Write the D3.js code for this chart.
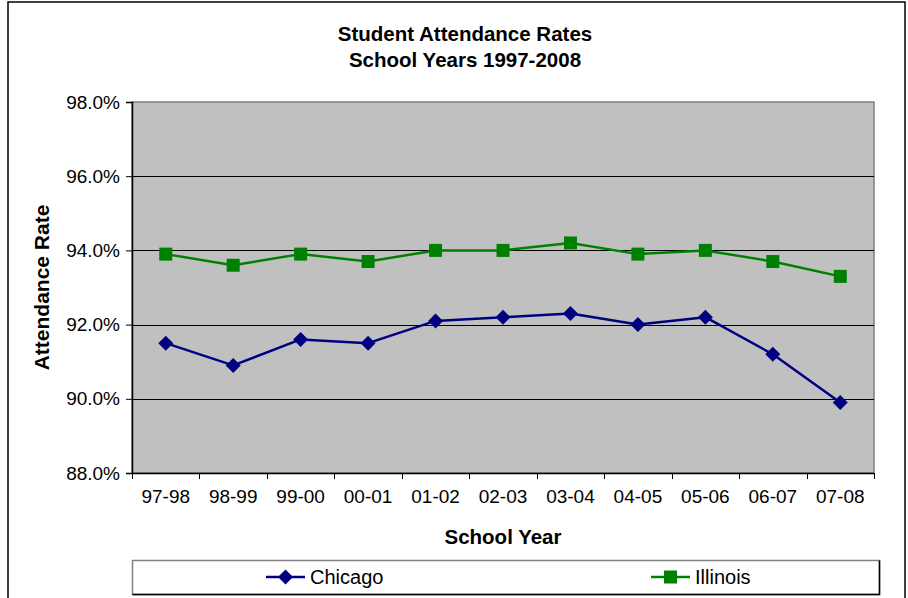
<!DOCTYPE html>
<html>
<head>
<meta charset="utf-8">
<script src="https://cdn.jsdelivr.net/npm/d3@7"></script>
<style>
  html, body { margin: 0; padding: 0; background: #fff; }
  svg { display: block; font-family: "Liberation Sans", Arial, sans-serif; }
</style>
</head>
<body>
<svg id="chart" width="908" height="598"></svg>
<script>
// School years on the category axis
const years = ["97-98", "98-99", "99-00", "00-01", "01-02", "02-03", "03-04", "04-05", "05-06", "06-07", "07-08"];
// Attendance rates (%)
const chicago = [91.5, 90.9, 91.6, 91.5, 92.1, 92.2, 92.3, 92.0, 92.2, 91.2, 89.9];
const illinois = [93.9, 93.6, 93.9, 93.7, 94.0, 94.0, 94.2, 93.9, 94.0, 93.7, 93.3];
// Value axis ticks
const yTicks = [88, 90, 92, 94, 96, 98];

const svg = d3.select("#chart");

// Outer chart frame
svg.append("rect")
  .attr("x", 8).attr("y", 2).attr("width", 897).attr("height", 620)
  .attr("fill", "none").attr("stroke", "#000").attr("stroke-width", 1.5);

const plot = { left: 132, right: 874, top: 102, bottom: 473 };

const x = d3.scaleBand().domain(years).range([plot.left, plot.right]);
const y = d3.scaleLinear().domain([88, 98]).range([plot.bottom, plot.top]);

// Plot background
svg.append("rect")
  .attr("x", plot.left).attr("y", plot.top)
  .attr("width", plot.right - plot.left).attr("height", plot.bottom - plot.top)
  .attr("fill", "#c0c0c0").attr("stroke", "#808080").attr("stroke-width", 1.5);

// Horizontal gridlines
svg.append("g")
  .selectAll("line")
  .data(yTicks.filter(t => t > 88 && t < 98))
  .join("line")
  .attr("x1", plot.left).attr("x2", plot.right)
  .attr("y1", d => Math.round(y(d)) + 0.5).attr("y2", d => Math.round(y(d)) + 0.5)
  .attr("stroke", "#000").attr("stroke-width", 1);

// Y axis
const yAxis = svg.append("g")
  .attr("transform", `translate(${plot.left},0)`)
  .call(d3.axisLeft(y).tickValues(yTicks).tickSize(6).tickPadding(6)
    .tickFormat(d => d3.format(".1f")(d) + "%"));
yAxis.select(".domain").attr("stroke", "#000").attr("stroke-width", 1.5);
yAxis.selectAll(".tick line").attr("stroke", "#000");
yAxis.selectAll(".tick text")
  .attr("font-size", 19).attr("fill", "#000")
  .attr("font-family", "'Liberation Sans', Arial, sans-serif");

// X axis with ticks at category boundaries
const xAxis = svg.append("g")
  .attr("transform", `translate(0,${plot.bottom})`)
  .call(d3.axisBottom(x).tickSize(0).tickPadding(17));
xAxis.select(".domain").attr("stroke", "#000").attr("stroke-width", 1.5);
xAxis.selectAll(".tick text")
  .attr("font-size", 19).attr("fill", "#000")
  .attr("font-family", "'Liberation Sans', Arial, sans-serif");
const bounds = years.map(d => x(d)).concat([x(years[years.length - 1]) + x.bandwidth()]);
xAxis.selectAll("line.boundary")
  .data(bounds)
  .join("line")
  .attr("class", "boundary")
  .attr("x1", d => Math.round(d) + 0.5).attr("x2", d => Math.round(d) + 0.5)
  .attr("y1", 0).attr("y2", 6)
  .attr("stroke", "#000");

const cx = d => x(d) + x.bandwidth() / 2;

const series = [
  { name: "Chicago", values: chicago, color: "#000080", shape: "diamond" },
  { name: "Illinois", values: illinois, color: "#008000", shape: "square" }
];

function drawMarker(g, shape, color) {
  if (shape === "diamond") {
    g.append("path").attr("d", "M0,-7.5L7.5,0L0,7.5L-7.5,0Z").attr("fill", color);
  } else {
    g.append("rect").attr("x", -6.5).attr("y", -6.5).attr("width", 13).attr("height", 13).attr("fill", color);
  }
}

const line = d3.line().x((d, i) => cx(years[i])).y(d => y(d));

series.forEach(s => {
  svg.append("path")
    .datum(s.values)
    .attr("d", line)
    .attr("fill", "none")
    .attr("stroke", s.color)
    .attr("stroke-width", 2.5)
    .attr("stroke-linejoin", "round");
  s.values.forEach((v, i) => {
    const g = svg.append("g").attr("transform", `translate(${cx(years[i])},${y(v)})`);
    drawMarker(g, s.shape, s.color);
  });
});

// Titles
svg.append("text")
  .attr("x", 465).attr("y", 41)
  .attr("text-anchor", "middle").attr("font-size", 20.5).attr("font-weight", "bold")
  .text("Student Attendance Rates");
svg.append("text")
  .attr("x", 465).attr("y", 67)
  .attr("text-anchor", "middle").attr("font-size", 20.5).attr("font-weight", "bold")
  .text("School Years 1997-2008");

svg.append("text")
  .attr("x", (plot.left + plot.right) / 2).attr("y", 544)
  .attr("text-anchor", "middle").attr("font-size", 20.5).attr("font-weight", "bold")
  .text("School Year");

svg.append("text")
  .attr("transform", `translate(49,${(plot.top + plot.bottom) / 2}) rotate(-90)`)
  .attr("text-anchor", "middle").attr("font-size", 21).attr("font-weight", "bold")
  .text("Attendance Rate");

// Legend
const legend = svg.append("g");
legend.append("rect")
  .attr("x", 132.5).attr("y", 560.5).attr("width", 747).attr("height", 34)
  .attr("fill", "#fff").attr("stroke", "#808080").attr("stroke-width", 1.5);
legend.append("path")
  .attr("d", "M879.5,560.5V594.5H132.5")
  .attr("fill", "none").attr("stroke", "#000").attr("stroke-width", 1.5);

const legendItems = [
  { s: series[0], x0: 266 },
  { s: series[1], x0: 651 }
];
legendItems.forEach(it => {
  const ly = 577;
  legend.append("line")
    .attr("x1", it.x0).attr("x2", it.x0 + 39)
    .attr("y1", ly).attr("y2", ly)
    .attr("stroke", it.s.color).attr("stroke-width", 2.5);
  const g = legend.append("g").attr("transform", `translate(${it.x0 + 19.5},${ly})`);
  drawMarker(g, it.s.shape, it.s.color);
  legend.append("text")
    .attr("x", it.x0 + 44).attr("y", ly + 7)
    .attr("font-size", 20)
    .text(it.s.name);
});
</script>
</body>
</html>
